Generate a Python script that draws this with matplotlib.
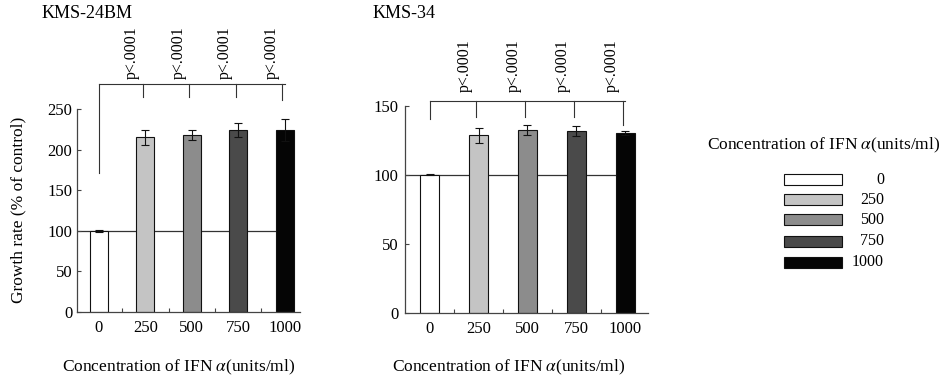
import matplotlib
matplotlib.use("Agg")
import matplotlib.pyplot as plt
from matplotlib.patches import Rectangle
import numpy as np

plt.rcParams['font.family'] = ['Liberation Serif', 'DejaVu Serif']
plt.rcParams['mathtext.fontset'] = 'stix'

# ---- data ----
conc = ['0', '250', '500', '750', '1000']
colors = ['#ffffff', '#c4c4c4', '#8c8c8c', '#4a4a4a', '#050505']

kms24_mean = [100, 215, 218, 224, 224]
kms24_err = [1, 9.5, 6, 8.5, 14]
kms34_mean = [100, 128.5, 132.5, 131.5, 130]
kms34_err = [0.5, 5.5, 3.5, 3.4, 1.5]

pval = 'p<.0001'
xlab = 'Concentration of IFN $\\alpha$(units/ml)'

fig = plt.figure(figsize=(9.42, 3.78), dpi=100)

ax1 = fig.add_axes([77/942, 1-312/378, 223/942, (312-109)/378])
ax2 = fig.add_axes([405/942, 1-312.7/378, 243/942, (312.7-105.5)/378])

panels = [
    (ax1, kms24_mean, kms24_err, (0, 250), np.arange(0, 251, 50),
     (-0.47, 4.33), 0.39, 280.5, 171, [264.5, 264.5, 264.5, 261], 287, 3.5),
    (ax2, kms34_mean, kms34_err, (0, 150), np.arange(0, 151, 50),
     (-0.51, 4.47), 0.39, 153, 140.3, [141.6, 141.6, 141.6, 136], 159.5, 4.5),
]

lc = '#333333'
for (ax, mean, err, ylim, yt, xlim, bw, by, b0, bdrops, ptext, ypad) in panels:
    x = np.arange(len(conc))
    ax.set_xlim(*xlim)
    ax.set_ylim(*ylim)
    ax.hlines(100, xlim[0], x[-1], color=lc, lw=0.9, zorder=1)
    ax.bar(x, mean, width=bw, color=colors, edgecolor='#111111', linewidth=0.8, zorder=2)
    ax.errorbar(x, mean, yerr=err, fmt='none', ecolor='#111111', elinewidth=0.8,
                capsize=3, capthick=0.8, zorder=3)
    for s in ['top', 'right']:
        ax.spines[s].set_visible(False)
    for s in ['left', 'bottom']:
        ax.spines[s].set_color('#444444')
        ax.spines[s].set_linewidth(0.9)
    ax.set_yticks(yt)
    ax.tick_params(axis='y', direction='in', length=3, width=0.8, labelsize=12,
                   pad=ypad, colors='#444444', labelcolor='black')
    ax.set_xticks(x)
    ax.set_xticklabels(conc)
    ax.tick_params(axis='x', length=0, labelsize=12, pad=6)
    ax.set_xticks(x[:-1] + 0.5, minor=True)
    ax.tick_params(axis='x', which='minor', direction='in', length=3, width=0.8,
                   colors='#444444')
    # bracket
    ax.plot([x[0], x[-1]], [by, by], color=lc, lw=0.8, clip_on=False)
    ax.plot([x[0], x[0]], [by, b0], color=lc, lw=0.8, clip_on=False)
    for xi, d in zip(x[1:], bdrops):
        ax.plot([xi - 0.05, xi - 0.05], [by, d], color=lc, lw=0.8, clip_on=False)
        ax.text(xi - 0.28, ptext, pval, rotation=90, ha='center', va='bottom',
                fontsize=11.5, clip_on=False)

fig.text(179/942, 1-367/378, xlab, fontsize=12.5, ha='center', va='center')
fig.text(509/942, 1-367/378, xlab, fontsize=12.5, ha='center', va='center')
fig.text(18/942, 1-210/378, 'Growth rate (% of control)', fontsize=12.5,
         rotation=90, ha='center', va='center')
fig.text(42/942, 1-14/378, 'KMS-24BM', fontsize=13, ha='left', va='center')
fig.text(373/942, 1-14/378, 'KMS-34', fontsize=13, ha='left', va='center')

# legend
fig.text(707/942, 1-145/378, xlab, fontsize=12.5, ha='left', va='center')
rows = [180, 200, 220, 241.5, 262.5]
for lab, col, yy in zip(conc, colors, rows):
    fig.patches.append(Rectangle((784/942, 1-(yy+5.5)/378), 58/942, 11/378,
                                 transform=fig.transFigure, facecolor=col,
                                 edgecolor='#111111', linewidth=0.8))
    fig.text(884/942, 1-yy/378, lab, fontsize=11.5, ha='right', va='center')

fig.savefig('out.png', dpi=100)
